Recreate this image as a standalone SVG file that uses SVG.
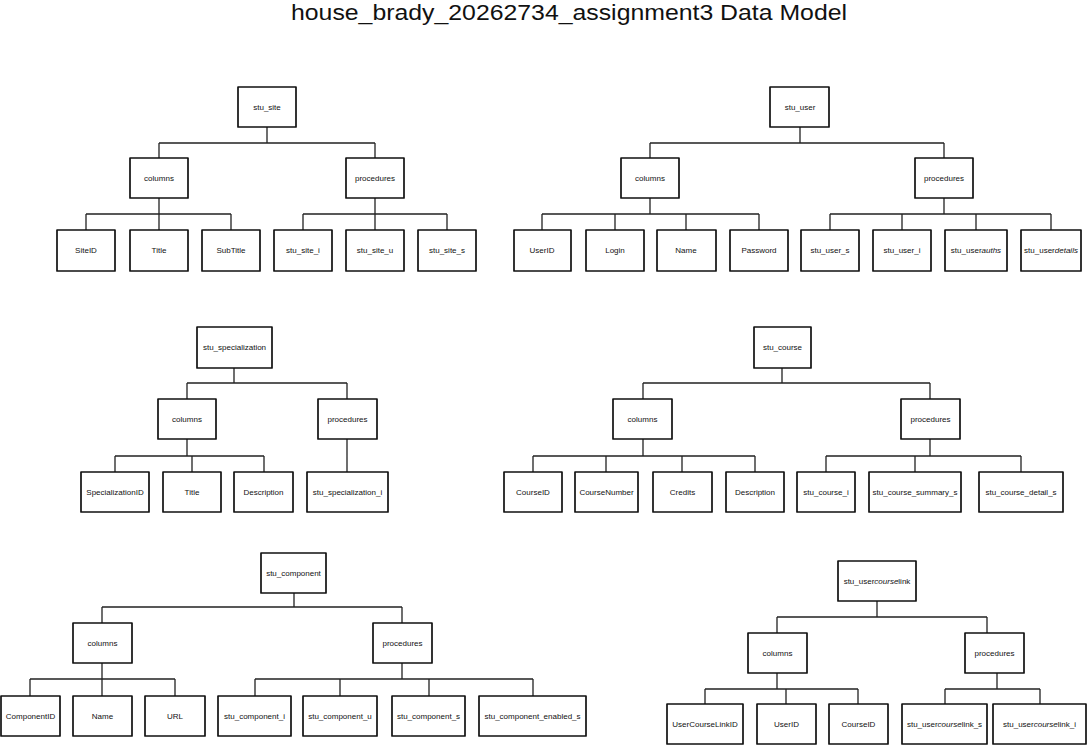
<svg xmlns="http://www.w3.org/2000/svg" width="1088" height="746" viewBox="0 0 1088 746">
<style>
.b{fill:#fff;stroke:#111;stroke-width:1.7;stroke-linejoin:round}
.t{font-family:"Liberation Sans",Arial,sans-serif;font-size:8px;fill:#111;text-anchor:middle}
.i{font-style:italic}
.c{fill:none;stroke:#222;stroke-width:1.3}
.h{font-family:"Liberation Sans",Arial,sans-serif;font-size:22px;fill:#111;text-anchor:middle}
</style>
<rect width="1088" height="746" fill="#fff"/>
<text class="h" x="569" y="20" textLength="556" lengthAdjust="spacingAndGlyphs">house_brady_20262734_assignment3 Data Model</text>

<g id="connectors">
<path class="c" d="M267 127V143M159 143H375M159 143V158M375 143V158M159 198V214M86 214H231M86 214V230M159 214V230M231 214V230M375 198V214M303 214H447M303 214V230M375 214V230M447 214V230"/>
<path class="c" d="M800 127V143M650 143H944M650 143V158M944 143V158M650 198V214M542 214H759M542 214V230M615 214V230M686 214V230M759 214V230M944 198V214M830 214H1051M830 214V230M902 214V230M976 214V230M1051 214V230"/>
<path class="c" d="M234 368V383M187 383H347M187 383V399M347 383V399M187 439V456M115 456H264M115 456V472M192 456V472M264 456V472M347 439V472"/>
<path class="c" d="M782 368V383M643 383H930M643 383V399M930 383V399M643 439V456M533 456H755M533 456V472M606 456V472M682 456V472M755 456V472M930 439V456M826 456H1021M826 456V472M915 456V472M1021 456V472"/>
<path class="c" d="M294 593V607M102 607H402M102 607V623M402 607V623M102 663V679M30 679H175M30 679V696M102 679V696M175 679V696M402 663V679M255 679H533M255 679V696M340 679V696M429 679V696M533 679V696"/>
<path class="c" d="M877 601V617M777 617H987M777 617V633M987 617V633M777 673V689M705 689H858M705 689V704M786 689V704M858 689V704M997 673V689M945 689H1040M945 689V704M1040 689V704"/>
</g>

<!-- stu_site -->
<g id="stu_site"><rect class="b" x="238" y="87" width="58" height="40"/><text class="t" x="267" y="110">stu_site</text></g>
<g id="stu_site_columns"><rect class="b" x="130" y="158" width="58" height="40"/><text class="t" x="159" y="181">columns</text></g>
<g id="stu_site_procedures"><rect class="b" x="346" y="158" width="58" height="40"/><text class="t" x="375" y="181">procedures</text></g>
<g id="site_SiteID"><rect class="b" x="57" y="230" width="58" height="41"/><text class="t" x="86" y="253">SiteID</text></g>
<g id="site_Title"><rect class="b" x="130" y="230" width="58" height="41"/><text class="t" x="159" y="253">Title</text></g>
<g id="site_SubTitle"><rect class="b" x="202" y="230" width="58" height="41"/><text class="t" x="231" y="253">SubTitle</text></g>
<g id="stu_site_i"><rect class="b" x="274" y="230" width="58" height="41"/><text class="t" x="303" y="253">stu_site_i</text></g>
<g id="stu_site_u"><rect class="b" x="346" y="230" width="58" height="41"/><text class="t" x="375" y="253">stu_site_u</text></g>
<g id="stu_site_s"><rect class="b" x="418" y="230" width="58" height="41"/><text class="t" x="447" y="253">stu_site_s</text></g>

<!-- stu_user -->
<g id="stu_user"><rect class="b" x="770" y="87" width="59" height="40"/><text class="t" x="800" y="110">stu_user</text></g>
<g id="stu_user_columns"><rect class="b" x="621" y="158" width="58" height="40"/><text class="t" x="650" y="181">columns</text></g>
<g id="stu_user_procedures"><rect class="b" x="915" y="158" width="58" height="40"/><text class="t" x="944" y="181">procedures</text></g>
<g id="user_UserID"><rect class="b" x="514" y="230" width="57" height="41"/><text class="t" x="542" y="253">UserID</text></g>
<g id="user_Login"><rect class="b" x="586" y="230" width="58" height="41"/><text class="t" x="615" y="253">Login</text></g>
<g id="user_Name"><rect class="b" x="657" y="230" width="59" height="41"/><text class="t" x="686" y="253">Name</text></g>
<g id="user_Password"><rect class="b" x="730" y="230" width="58" height="41"/><text class="t" x="759" y="253">Password</text></g>
<g id="stu_user_s"><rect class="b" x="801" y="230" width="58" height="41"/><text class="t" x="830" y="253">stu_user_s</text></g>
<g id="stu_user_i"><rect class="b" x="873" y="230" width="58" height="41"/><text class="t" x="902" y="253">stu_user_i</text></g>
<g id="stu_user_auths"><rect class="b" x="945" y="230" width="62" height="41"/><text class="t" x="976" y="253">stu_user<tspan class="i">auths</tspan></text></g>
<g id="stu_user_details"><rect class="b" x="1021" y="230" width="60" height="41"/><text class="t" x="1051" y="253">stu_user<tspan class="i">details</tspan></text></g>

<!-- stu_specialization -->
<g id="stu_specialization"><rect class="b" x="197" y="327" width="75" height="41"/><text class="t" x="234.5" y="350">stu_specialization</text></g>
<g id="spec_columns"><rect class="b" x="158" y="399" width="58" height="40"/><text class="t" x="187" y="422">columns</text></g>
<g id="spec_procedures"><rect class="b" x="318" y="399" width="59" height="40"/><text class="t" x="347.5" y="422">procedures</text></g>
<g id="spec_SpecializationID"><rect class="b" x="81" y="472" width="68" height="40"/><text class="t" x="115" y="495">SpecializationID</text></g>
<g id="spec_Title"><rect class="b" x="163" y="472" width="58" height="40"/><text class="t" x="192" y="495">Title</text></g>
<g id="spec_Description"><rect class="b" x="234" y="472" width="59" height="40"/><text class="t" x="263.5" y="495">Description</text></g>
<g id="stu_specialization_i"><rect class="b" x="307" y="472" width="81" height="40"/><text class="t" x="347.5" y="495">stu_specialization_i</text></g>

<!-- stu_course -->
<g id="stu_course"><rect class="b" x="754" y="327" width="57" height="41"/><text class="t" x="782.5" y="350">stu_course</text></g>
<g id="course_columns"><rect class="b" x="613" y="399" width="59" height="40"/><text class="t" x="642.5" y="422">columns</text></g>
<g id="course_procedures"><rect class="b" x="901" y="399" width="59" height="40"/><text class="t" x="930.5" y="422">procedures</text></g>
<g id="course_CourseID"><rect class="b" x="504" y="472" width="58" height="40"/><text class="t" x="533" y="495">CourseID</text></g>
<g id="course_CourseNumber"><rect class="b" x="575" y="472" width="63" height="40"/><text class="t" x="606.5" y="495">CourseNumber</text></g>
<g id="course_Credits"><rect class="b" x="653" y="472" width="59" height="40"/><text class="t" x="682.5" y="495">Credits</text></g>
<g id="course_Description"><rect class="b" x="726" y="472" width="58" height="40"/><text class="t" x="755" y="495">Description</text></g>
<g id="stu_course_i"><rect class="b" x="797" y="472" width="58" height="40"/><text class="t" x="826" y="495">stu_course_i</text></g>
<g id="stu_course_summary_s"><rect class="b" x="869" y="472" width="92" height="40"/><text class="t" x="915" y="495">stu_course_summary_s</text></g>
<g id="stu_course_detail_s"><rect class="b" x="979" y="472" width="84" height="40"/><text class="t" x="1021" y="495">stu_course_detail_s</text></g>

<!-- stu_component -->
<g id="stu_component"><rect class="b" x="261" y="553" width="65" height="40"/><text class="t" x="293.5" y="576">stu_component</text></g>
<g id="comp_columns"><rect class="b" x="73" y="623" width="59" height="40"/><text class="t" x="102.5" y="646">columns</text></g>
<g id="comp_procedures"><rect class="b" x="373" y="623" width="59" height="40"/><text class="t" x="402.5" y="646">procedures</text></g>
<g id="comp_ComponentID"><rect class="b" x="1" y="696" width="59" height="40"/><text class="t" x="30.5" y="719">ComponentID</text></g>
<g id="comp_Name"><rect class="b" x="73" y="696" width="59" height="40"/><text class="t" x="102.5" y="719">Name</text></g>
<g id="comp_URL"><rect class="b" x="145" y="696" width="60" height="40"/><text class="t" x="175" y="719">URL</text></g>
<g id="stu_component_i"><rect class="b" x="218" y="696" width="73" height="40"/><text class="t" x="254.5" y="719">stu_component_i</text></g>
<g id="stu_component_u"><rect class="b" x="303" y="696" width="74" height="40"/><text class="t" x="340" y="719">stu_component_u</text></g>
<g id="stu_component_s"><rect class="b" x="392" y="696" width="73" height="40"/><text class="t" x="428.5" y="719">stu_component_s</text></g>
<g id="stu_component_enabled_s"><rect class="b" x="479" y="696" width="107" height="40"/><text class="t" x="532.5" y="719">stu_component_enabled_s</text></g>

<!-- stu_usercourselink -->
<g id="stu_usercourselink"><rect class="b" x="838" y="561" width="78" height="40"/><text class="t" x="877" y="584">stu_user<tspan class="i">course</tspan>link</text></g>
<g id="ucl_columns"><rect class="b" x="748" y="633" width="59" height="40"/><text class="t" x="777.5" y="656">columns</text></g>
<g id="ucl_procedures"><rect class="b" x="965" y="633" width="59" height="40"/><text class="t" x="994.5" y="656">procedures</text></g>
<g id="ucl_UserCourseLinkID"><rect class="b" x="667" y="704" width="76" height="40"/><text class="t" x="705" y="727">UserCourseLinkID</text></g>
<g id="ucl_UserID"><rect class="b" x="757" y="704" width="59" height="40"/><text class="t" x="786.5" y="727">UserID</text></g>
<g id="ucl_CourseID"><rect class="b" x="829" y="704" width="59" height="40"/><text class="t" x="858.5" y="727">CourseID</text></g>
<g id="stu_usercourselink_s"><rect class="b" x="902" y="704" width="85" height="40"/><text class="t" x="944.5" y="727">stu_user<tspan class="i">course</tspan>link_s</text></g>
<g id="stu_usercourselink_i"><rect class="b" x="993" y="704" width="93" height="40"/><text class="t" x="1039.5" y="727">stu_user<tspan class="i">course</tspan>link_i</text></g>
</svg>
